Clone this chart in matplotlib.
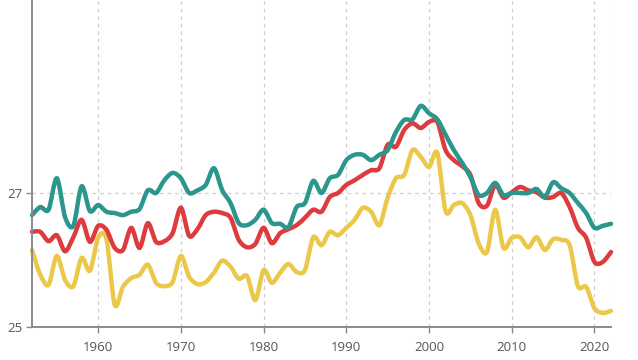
import numpy as np
import matplotlib
matplotlib.use('Agg')
import matplotlib.pyplot as plt
from matplotlib.path import Path
from matplotlib.patches import PathPatch

plt.rcParams['font.family'] = ['Open Sans', 'DejaVu Sans']

years = np.arange(1952, 2023)

teal = [26.67, 26.79, 26.75, 27.22, 26.64, 26.51, 27.10, 26.73, 26.82, 26.72,
        26.70, 26.67, 26.72, 26.76, 27.04, 27.00, 27.19, 27.30, 27.22, 27.00,
        27.04, 27.12, 27.37, 27.04, 26.85, 26.55, 26.52, 26.60, 26.75, 26.55,
        26.54, 26.49, 26.79, 26.85, 27.18, 27.00, 27.22, 27.27, 27.49, 27.57,
        27.57, 27.49, 27.57, 27.64, 27.91, 28.09, 28.10, 28.30, 28.19, 28.10,
        27.87, 27.64, 27.45, 27.24, 26.97, 27.00, 27.15, 26.97, 27.00, 27.00,
        27.00, 27.06, 26.94, 27.16, 27.07, 27.00, 26.85, 26.70, 26.48, 26.51,
        26.54]

red = [26.42, 26.42, 26.28, 26.37, 26.13, 26.34, 26.60, 26.27, 26.51, 26.45,
       26.18, 26.15, 26.48, 26.18, 26.55, 26.27, 26.28, 26.40, 26.78, 26.36,
       26.46, 26.67, 26.72, 26.70, 26.63, 26.30, 26.19, 26.24, 26.48, 26.25,
       26.40, 26.46, 26.52, 26.63, 26.75, 26.72, 26.94, 27.00, 27.12, 27.19,
       27.27, 27.34, 27.37, 27.72, 27.69, 27.94, 28.04, 27.97, 28.06, 28.06,
       27.64, 27.49, 27.40, 27.27, 26.85, 26.81, 27.12, 26.93, 27.01, 27.09,
       27.04, 27.01, 26.93, 26.94, 27.00, 26.79, 26.48, 26.33, 25.97, 25.97,
       26.12]

yellow = [26.15, 25.78, 25.63, 26.06, 25.70, 25.61, 26.03, 25.84, 26.33, 26.31,
          25.33, 25.60, 25.73, 25.78, 25.93, 25.66, 25.61, 25.67, 26.06, 25.75,
          25.64, 25.67, 25.81, 25.99, 25.90, 25.72, 25.76, 25.40, 25.85, 25.66,
          25.81, 25.94, 25.82, 25.85, 26.34, 26.22, 26.42, 26.37, 26.48, 26.60,
          26.78, 26.72, 26.52, 26.93, 27.22, 27.27, 27.64, 27.54, 27.39, 27.60,
          26.73, 26.82, 26.85, 26.67, 26.25, 26.12, 26.75, 26.18, 26.33, 26.34,
          26.19, 26.34, 26.15, 26.31, 26.30, 26.22, 25.61, 25.60, 25.28, 25.21,
          25.24]

xticks = [1960, 1970, 1980, 1990, 2000, 2010, 2020]
yticks = [25, 27]


def spline_path(x, y, k=0.9):
    # smooth curve through the data points (catmull-rom as cubic beziers)
    p = np.column_stack([x, y]).astype(float)
    ext = np.vstack([p[0], p, p[-1]])
    verts = [p[0]]
    codes = [Path.MOVETO]
    for i in range(len(p) - 1):
        p0, p1, p2, p3 = ext[i], ext[i + 1], ext[i + 2], ext[i + 3]
        c1 = p1 + (p2 - p0) / 6 * k
        c2 = p2 - (p3 - p1) / 6 * k
        verts += [c1, c2, p2]
        codes += [Path.CURVE4] * 3
    return Path(verts, codes)


fig = plt.figure(figsize=(6.38, 3.6), dpi=100, facecolor='white')
ax = fig.add_axes([32/638, 33/360, 579/638, 327/360])

for vals, col in [(yellow, '#ebc84a'), (red, '#de3b3f'), (teal, '#2a968c')]:
    patch = PathPatch(spline_path(years, vals), facecolor='none', edgecolor=col,
                      lw=3.2, joinstyle='round', capstyle='round', clip_on=False)
    ax.add_patch(patch)

ax.set_xlim(1952, 2022)
ax.set_ylim(25, 29.88)
ax.set_xticks(xticks)
ax.set_yticks(yticks)

for x in xticks + [2022]:
    ax.axvline(x, color='#cfcfcf', lw=0.9, ls=(0, (3, 3)), zorder=0)
ax.axhline(27, color='#cfcfcf', lw=0.9, ls=(0, (3, 3)), zorder=0)

for s in ['top', 'right']:
    ax.spines[s].set_visible(False)
for s in ['left', 'bottom']:
    ax.spines[s].set_color('#8a8a8a')
    ax.spines[s].set_linewidth(1.4)

ax.tick_params(axis='both', colors='#8a8a8a', labelcolor='#555555',
               labelsize=9.5, length=4, width=1)
ax.tick_params(axis='x', pad=6)
ax.tick_params(axis='y', pad=3)

fig.savefig('out.png', dpi=100)
